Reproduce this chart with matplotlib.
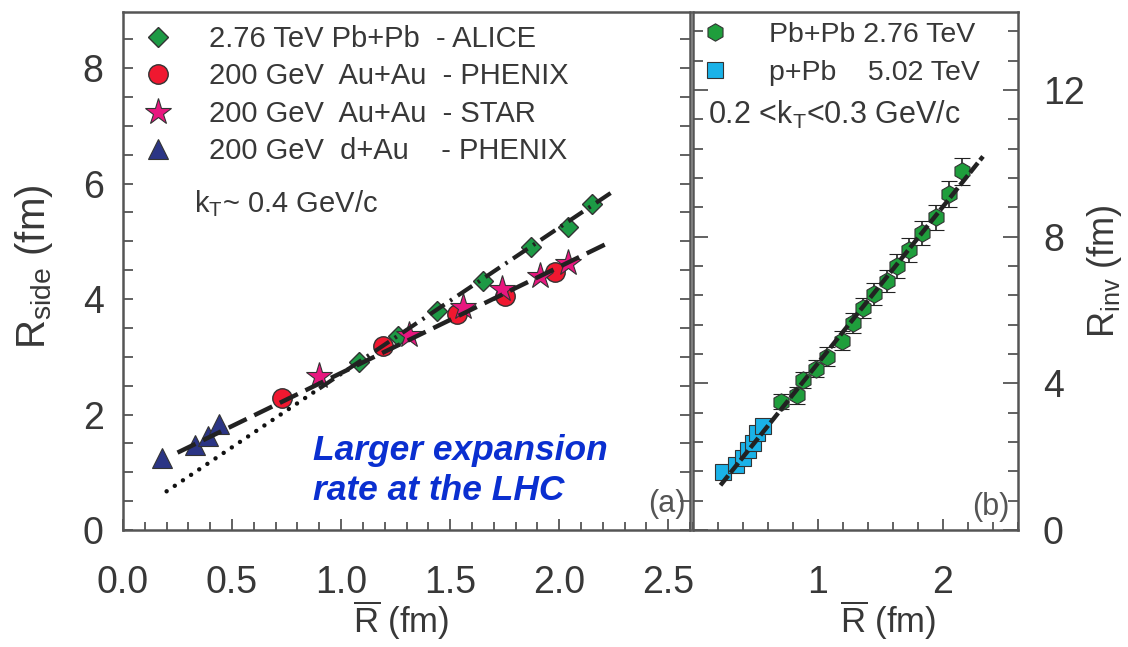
import matplotlib
matplotlib.use("Agg")
import matplotlib.pyplot as plt
from matplotlib.ticker import MultipleLocator

plt.rcParams["font.family"] = ["Liberation Sans", "DejaVu Sans"]
plt.rcParams["mathtext.fontset"] = "custom"
plt.rcParams["mathtext.rm"] = "Liberation Sans"
plt.rcParams["mathtext.it"] = "Liberation Sans:italic"

# ---- panel (a): R_side vs R-bar ----
alice_x = [1.08, 1.26, 1.44, 1.65, 1.87, 2.04, 2.15]
alice_y = [2.91, 3.36, 3.79, 4.31, 4.90, 5.24, 5.64]
phenix_x = [0.73, 1.19, 1.53, 1.75, 1.98]
phenix_y = [2.28, 3.19, 3.74, 4.05, 4.47]
star_x = [0.90, 1.31, 1.56, 1.74, 1.91, 2.04]
star_y = [2.66, 3.38, 3.86, 4.17, 4.40, 4.62]
dau_x = [0.18, 0.33, 0.39, 0.44]
dau_y = [1.24, 1.47, 1.62, 1.84]

# fit lines (end points)
lhc_dot_x = [0.20, 0.90]
lhc_dot_y = [0.67, 2.45]
lhc_fit_x = [0.90, 2.25]
lhc_fit_y = [2.45, 5.87]
rhic_fit_x = [0.25, 2.23]
rhic_fit_y = [1.34, 4.98]

labels_a = [
    "2.76 TeV Pb+Pb  - ALICE",
    "200 GeV  Au+Au  - PHENIX",
    "200 GeV  Au+Au  - STAR",
    "200 GeV  d+Au    - PHENIX",
]

# ---- panel (b): R_inv vs R-bar ----
pbpb_x = [0.70, 0.83, 0.88, 0.98, 1.07, 1.19, 1.28, 1.36, 1.45, 1.55, 1.63, 1.73, 1.83, 1.94, 2.05, 2.15]
pbpb_y = [3.50, 3.67, 4.08, 4.40, 4.73, 5.16, 5.65, 6.06, 6.44, 6.79, 7.20, 7.64, 8.10, 8.53, 9.16, 9.78]
pbpb_err = [0.20, 0.22, 0.22, 0.24, 0.25, 0.26, 0.28, 0.28, 0.30, 0.30, 0.32, 0.33, 0.33, 0.34, 0.36, 0.38]
ppb_x = [0.24, 0.34, 0.40, 0.44, 0.48, 0.51, 0.56]
ppb_y = [1.58, 1.77, 1.97, 2.17, 2.37, 2.64, 2.85]
ppb_err = [0.15, 0.15, 0.16, 0.16, 0.17, 0.17, 0.18]
inv_fit_x = [0.22, 2.32]
inv_fit_y = [1.22, 10.19]

labels_b = ["Pb+Pb 2.76 TeV", "p+Pb    5.02 TeV"]

TXT = "#383838"
FRAME = "#555555"
EDGE = "#333333"

fig = plt.figure(figsize=(11.28, 6.47), dpi=100)
ax1 = fig.add_axes([123 / 1128, 1 - 530 / 647, 567 / 1128, 518 / 647])
ax2 = fig.add_axes([693 / 1128, 1 - 530 / 647, 325 / 1128, 518 / 647])

# panel (a) markers
h1, = ax1.plot(alice_x, alice_y, "D", ms=10.5, mfc="#1d9a45", mec=EDGE, mew=1, ls="none", zorder=3)
h2, = ax1.plot(phenix_x, phenix_y, "o", ms=14, mfc="#f01830", mec=EDGE, mew=1, ls="none", zorder=3)
h3, = ax1.plot(star_x, star_y, "*", ms=20, mfc="#e8177f", mec=EDGE, mew=0.8, ls="none", zorder=3)
h4, = ax1.plot(dau_x, dau_y, "^", ms=15, mfc="#2b3585", mec=EDGE, mew=0.8, ls="none", zorder=3)

ax1.plot(lhc_dot_x, lhc_dot_y, color="#111111", lw=3.2, ls=(0, (0.01, 2.2)), dash_capstyle="round", zorder=4)
ax1.plot(lhc_fit_x, lhc_fit_y, color="#222222", lw=3.0, ls=(0, (4.2, 1.6, 0.6, 1.6)), zorder=4)
ax1.plot(rhic_fit_x, rhic_fit_y, color="#222222", lw=3.2, ls=(0, (4.5, 1.9)), zorder=4)

leg1 = ax1.legend([h1, h2, h3, h4], labels_a, loc="upper left", frameon=False, fontsize=21,
                  handlelength=1.5, handletextpad=0.99, labelspacing=0.32, borderaxespad=0.05,
                  borderpad=0.4)
for t in leg1.get_texts():
    t.set_color(TXT)

ax1.text(0.125, 0.631, r"k$_\mathrm{T}$~ 0.4 GeV/c", transform=ax1.transAxes, fontsize=21, color=TXT, va="center")
ax1.text(0.335, 0.115, "Larger expansion\nrate at the LHC", transform=ax1.transAxes, fontsize=25.5,
         fontweight="bold", style="italic", color="#0a2fd0", va="center", linespacing=1.3)
ax1.text(0.993, 0.05, "(a)", transform=ax1.transAxes, fontsize=22, color="#555555", ha="right", va="center")

ax1.set_xlim(0, 2.6)
ax1.set_ylim(0.03, 8.97)
ax1.set_xticks([0, 0.5, 1.0, 1.5, 2.0, 2.5])
ax1.set_xticklabels(["0.0", "0.5", "1.0", "1.5", "2.0", "2.5"])
ax1.xaxis.set_minor_locator(MultipleLocator(0.1))
ax1.set_yticks([0, 2, 4, 6, 8])
ax1.yaxis.set_minor_locator(MultipleLocator(0.5))
ax1.tick_params(axis="x", which="major", direction="in", length=8, width=1.3, color=FRAME,
                labelsize=27, pad=25, labelcolor=TXT, top=False)
ax1.tick_params(axis="x", which="minor", direction="in", length=6, width=1.3, color=FRAME, top=False)
ax1.tick_params(axis="y", which="both", direction="in", length=7, width=1.3, color=FRAME,
                right=True, labelsize=27, pad=14, labelcolor=TXT)
ax1.set_xlabel(r"$\overline{\mathrm{R}}$ (fm)", fontsize=25, color=TXT)
ax1.xaxis.set_label_coords(0.49, -0.133)
ax1.set_ylabel(r"R$_{\mathrm{side}}$ (fm)", fontsize=29, color=TXT)
ax1.yaxis.set_label_coords(-0.12, 0.508)

# panel (b)
eb1 = ax2.errorbar(pbpb_x, pbpb_y, yerr=pbpb_err, fmt="h", ms=12.5, mfc="#1f9e3c", mec=EDGE, mew=0.8,
                   ecolor="#222222", elinewidth=1.2, capsize=6, capthick=1.2, zorder=3)
eb2 = ax2.errorbar(ppb_x, ppb_y, yerr=ppb_err, fmt="s", ms=11.5, mfc="#1ab2e8", mec=EDGE, mew=0.8,
                   ecolor="#222222", elinewidth=1.2, capsize=6, capthick=1.2, zorder=3)
ax2.plot(inv_fit_x, inv_fit_y, color="#222222", lw=3.2, ls=(0, (2.8, 0.8)), zorder=4)

leg2 = ax2.legend([eb1[0], eb2[0]], labels_b, loc="upper left", frameon=False, fontsize=20.5,
                  handlelength=0.84, handletextpad=1.47, labelspacing=0.42, borderaxespad=0.05,
                  borderpad=0.3)
for t in leg2.get_texts():
    t.set_color(TXT)
ax2.text(0.046, 0.801, r"0.2 <k$_\mathrm{T}$<0.3 GeV/c", transform=ax2.transAxes, fontsize=22, color=TXT, va="center")
ax2.text(0.975, 0.045, "(b)", transform=ax2.transAxes, fontsize=22, color="#555555", ha="right", va="center")

ax2.set_xlim(0, 2.6)
ax2.set_ylim(0, 14.13)
ax2.set_xticks([1, 2])
ax2.xaxis.set_minor_locator(MultipleLocator(0.2))
ax2.set_yticks([0, 4, 8, 12])
ax2.yaxis.set_minor_locator(MultipleLocator(0.8))
ax2.yaxis.tick_right()
ax2.tick_params(axis="x", which="major", direction="in", length=8, width=1.3, color=FRAME,
                labelsize=27, pad=25, labelcolor=TXT, top=False)
ax2.tick_params(axis="x", which="minor", direction="in", length=6, width=1.3, color=FRAME, top=False)
ax2.tick_params(axis="y", which="major", direction="in", length=11, width=1.3, color=FRAME,
                left=True, right=True, labelleft=False, labelright=True, labelsize=27, pad=18, labelcolor=TXT)
ax2.tick_params(axis="y", which="minor", direction="in", length=7, width=1.3, color=FRAME,
                left=True, right=True)
ax2.set_xlabel(r"$\overline{\mathrm{R}}$ (fm)", fontsize=25, color=TXT)
ax2.xaxis.set_label_coords(0.60, -0.133)
ax2.yaxis.set_label_position("right")
ax2.set_ylabel(r"R$_{\mathrm{inv}}$ (fm)", fontsize=26, color=TXT, rotation=90)
ax2.yaxis.set_label_coords(1.206, 0.50)

for ax in (ax1, ax2):
    for sp in ax.spines.values():
        sp.set_color(FRAME)
        sp.set_linewidth(1.8)

fig.savefig("out.png", dpi=100)
